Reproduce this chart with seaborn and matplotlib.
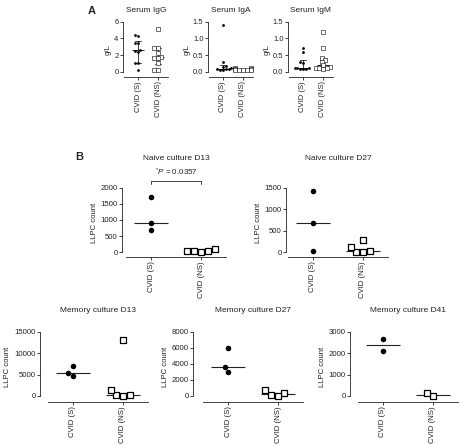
import matplotlib
matplotlib.use("Agg")
import matplotlib.pyplot as plt
import numpy as np
import pandas as pd
import seaborn as sns

GROUPS = ["CVID (S)", "CVID (NS)"]

# A: serum immunoglobulins, g/L
igg_s = [4.4, 4.3, 3.5, 3.4, 2.6, 2.5, 2.4, 1.1, 1.0, 0.2]
igg_ns = [5.1, 2.9, 2.8, 2.3, 1.8, 1.7, 1.6, 1.1, 0.2, 0.2]
iga_s = [1.4, 0.3, 0.17, 0.15, 0.1, 0.08, 0.07, 0.07, 0.06, 0.05]
iga_ns = [0.11, 0.1, 0.09, 0.08, 0.07, 0.06, 0.06, 0.05, 0.05, 0.04]
igm_s = [0.7, 0.6, 0.28, 0.27, 0.12, 0.1, 0.1, 0.09, 0.08, 0.07]
igm_ns = [1.2, 0.7, 0.42, 0.35, 0.3, 0.2, 0.15, 0.12, 0.1, 0.1, 0.08]

# B: LLPC counts per culture
naive_d13_s = [1720, 920, 690]
naive_d13_ns = [105, 20, 0, 20, 40]
naive_d27_s = [1420, 690, 24]
naive_d27_ns = [24, 0, 276, 0, 118]
mem_d13_s = [7100, 5400, 4600]
mem_d13_ns = [13100, 300, 0, 200, 1300]
mem_d27_s = [5950, 3650, 3050]
mem_d27_ns = [380, 0, 170, 710]
mem_d41_s = [2690, 2100]
mem_d41_ns = [0, 140]

W, H, DPI = 459, 445, 100
INK = "#222222"

sns.set_style("ticks")
plt.rcParams.update({
    "font.family": ["Liberation Sans", "DejaVu Sans"],
    "mathtext.fontset": "custom",
    "mathtext.rm": "Liberation Sans",
    "mathtext.it": "Liberation Sans:italic",
    "axes.linewidth": 0.6,
    "axes.edgecolor": INK,
    "xtick.color": INK,
    "ytick.color": INK,
    "xtick.major.size": 2,
    "ytick.major.size": 2,
    "xtick.major.width": 0.6,
    "ytick.major.width": 0.6,
    "xtick.major.pad": 1.2,
    "ytick.major.pad": 1.2,
})


def long_df(s, ns):
    return pd.DataFrame({
        "group": [GROUPS[0]] * len(s) + [GROUPS[1]] * len(ns),
        "value": list(s) + list(ns),
    })


def prism_iqr(x):
    return (np.percentile(x, 25, method="weibull"), np.percentile(x, 75, method="weibull"))


def place(fig, x0, x1, ytop, yaxis):
    return fig.add_axes([x0 / W, 1 - yaxis / H, (x1 - x0) / W, (yaxis - ytop) / H])


def finish(ax, ymax, ticks, xlim, ytop, yzero, yaxis, off, fs, ylabel):
    ylo = -ymax * (yaxis - yzero) / (yzero - ytop)
    ax.set_ylim(ylo, ymax)
    ax.set_xlim(*xlim)
    ax.set_yticks(ticks)
    ax.spines["left"].set_bounds(0, ymax)
    ax.spines["left"].set_position(("outward", off * 72 / DPI))
    sns.despine(ax=ax)
    ax.set_xlabel("")
    ax.set_ylabel(ylabel, fontsize=fs, color=INK, labelpad=2)
    ax.tick_params(axis="both", labelsize=fs)
    ax.tick_params(axis="x", rotation=90)


fig = plt.figure(figsize=(W / DPI, H / DPI), dpi=DPI)

# ---- panel A
panel_a = [
    ("Serum IgG", igg_s, igg_ns, 6, [0, 2, 4, 6], 124),
    ("Serum IgA", iga_s, iga_ns, 1.5, [0.0, 0.5, 1.0, 1.5], 209),
    ("Serum IgM", igm_s, igm_ns, 1.5, [0.0, 0.5, 1.0, 1.5], 289),
]
for title, s, ns, ymax, ticks, x0 in panel_a:
    df = long_df(s, ns)
    ax = place(fig, x0, x0 + 44, 21.7, 77)
    sns.pointplot(data=df, x="group", y="value", order=GROUPS, estimator="median",
                  errorbar=prism_iqr, capsize=0.3, color=INK, markers="_",
                  linestyles="none", markersize=9, markeredgewidth=0.7,
                  err_kws={"linewidth": 0.6}, ax=ax)
    sns.swarmplot(data=df[df.group == GROUPS[0]], x="group", y="value", order=GROUPS,
                  color="black", marker="o", size=2, ax=ax)
    sns.swarmplot(data=df[df.group == GROUPS[1]], x="group", y="value", order=GROUPS,
                  color="white", edgecolor="black", linewidth=0.4, marker="s", size=2.2, ax=ax)
    finish(ax, ymax, ticks, (-0.7, 1.5), 21.7, 71.7, 77, 1, 5.5, "g/L")
    fig.text((x0 + 22) / W, 1 - 11 / H, title, ha="center", va="center", fontsize=6, color=INK)

fig.text(92 / W, 1 - 11 / H, "A", ha="center", va="center", fontsize=8, fontweight="bold")
fig.text(79 / W, 1 - 157 / H, "B", ha="center", va="center", fontsize=8, fontweight="bold")

# ---- panel B
panel_b = [
    ("Naive culture D13", naive_d13_s, naive_d13_ns, 2000, [0, 500, 1000, 1500, 2000], 126, 188, 252, 257, 4, 158),
    ("Naive culture D27", naive_d27_s, naive_d27_ns, 1500, [0, 500, 1000, 1500], 288, 188, 252, 257, 2, 158),
    ("Memory culture D13", mem_d13_s, mem_d13_ns, 15000, [0, 5000, 10000, 15000], 48, 332, 396, 402, 8, 311),
    ("Memory culture D27", mem_d27_s, mem_d27_ns, 8000, [0, 2000, 4000, 6000, 8000], 203, 332, 396, 402, 10, 311),
    ("Memory culture D41", mem_d41_s, mem_d41_ns, 3000, [0, 1000, 2000, 3000], 358, 332, 396, 402, 8, 311),
]
axes_b = []
for title, s, ns, ymax, ticks, x0, ytop, yzero, yaxis, off, ty in panel_b:
    df = long_df(s, ns)
    ax = place(fig, x0, x0 + 100, ytop, yaxis)
    sns.pointplot(data=df, x="group", y="value", order=GROUPS, estimator="median",
                  errorbar=None, color=INK, markers="_", linestyles="none",
                  markersize=24, markeredgewidth=0.8, ax=ax)
    sns.swarmplot(data=df[df.group == GROUPS[0]], x="group", y="value", order=GROUPS,
                  color="black", marker="o", size=4, ax=ax)
    sns.swarmplot(data=df[df.group == GROUPS[1]], x="group", y="value", order=GROUPS,
                  color="white", edgecolor="black", linewidth=0.9, marker="s", size=4, ax=ax)
    finish(ax, ymax, ticks, (-0.5, 1.5), ytop, yzero, yaxis, off, 5.6, "LLPC count")
    fig.text((x0 + 50) / W, 1 - ty / H, title, ha="center", va="center", fontsize=6, color=INK)
    axes_b.append(ax)

# significance bracket on naive D13
ax = axes_b[0]
ax.plot([0, 0, 1, 1], [2125, 2220, 2220, 2125], color=INK, lw=0.6, clip_on=False)
ax.text(0.5, 2300, r"$^{*}P$ = 0.0357", ha="center", va="bottom", fontsize=5.8, color=INK)

fig.savefig("out.png", dpi=DPI)
